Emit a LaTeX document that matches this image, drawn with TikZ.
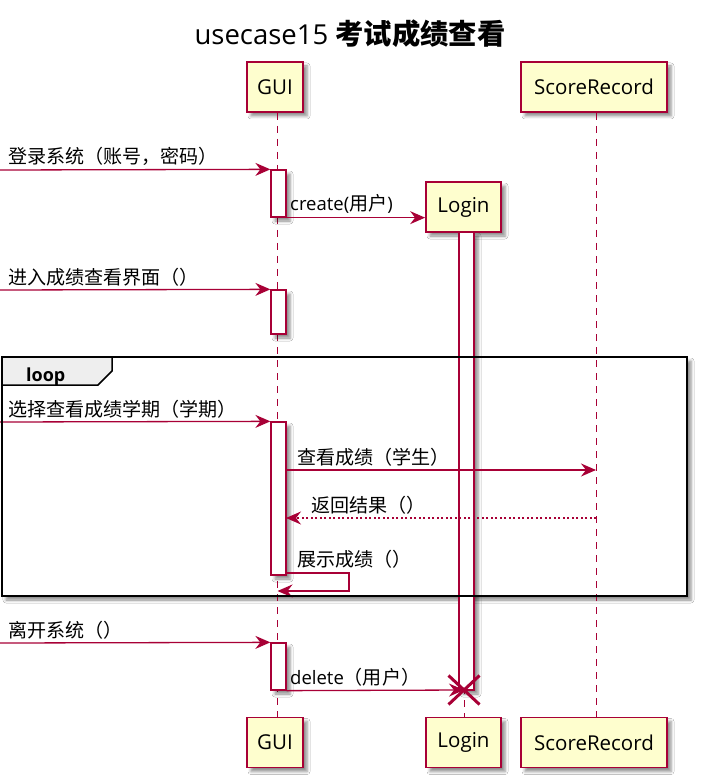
\documentclass[tikz,border=0pt]{standalone}
\usepackage{fontspec}
\setmainfont{Open Sans}
\newfontfamily\cjk{Noto Sans CJK SC}[Scale=1.03]
\usetikzlibrary{arrows.meta,shadows.blur,shapes.misc}
\definecolor{umlred}{HTML}{A80036}
\definecolor{umlfill}{HTML}{FEFECE}
\definecolor{tabgray}{HTML}{EEEEEE}
\begin{document}
\begin{tikzpicture}[x=1pt,y=-1pt,
  shd/.style={blur shadow={shadow xshift=4pt, shadow yshift=-4pt, shadow blur radius=3pt, shadow opacity=45}},
  part/.style={draw=umlred, line width=1.8pt, fill=umlfill, minimum height=50pt, inner sep=0pt, font=\fontsize{20.5}{24}\selectfont, shd},
  actbar/.style={draw=umlred, line width=1.3pt, fill=white, minimum width=15pt, inner sep=0pt, shd},
  life/.style={draw=umlred, line width=1pt, dash pattern=on 7pt off 6pt},
  msg/.style={draw=umlred, line width=1.3pt, -{Stealth[length=15pt,width=13pt,inset=5pt]}},
  ret/.style={msg, dash pattern=on 2pt off 2.5pt},
  lbl/.style={anchor=base west, inner sep=0pt, font=\fontsize{18.5}{22}\selectfont},
]
\fill[white] (0,0) rectangle (705,783);
\useasboundingbox (0,0) rectangle (705,783);

% title
\node[anchor=base, inner sep=0pt, font=\fontsize{27.5}{31}\selectfont] (title) at (350,45) {usecase15 {\cjk\bfseries 考试成绩查看}};

% loop frame background with shadow
\path[fill=white, shd] (2,357) rectangle (687,596);

% participants
\node[part, minimum width=56pt] (guiT) at (275,87) {GUI};
\node[part, minimum width=146pt] (srT) at (594,87) {ScoreRecord};
\node[part, minimum width=75pt] (logT) at (463.5,207) {Login};
\node[part, minimum width=56pt] (guiB) at (275,742.5) {GUI};
\node[part, minimum width=75pt] (logB) at (463.5,742.5) {Login};
\node[part, minimum width=146pt] (srB) at (594,742.5) {ScoreRecord};

% lifelines
\coordinate (guiL1) at (277.5,113);
\coordinate (guiL2) at (277.5,717);
\coordinate (srL1) at (596,113);
\coordinate (srL2) at (596,717);
\coordinate (logL1) at (464,232);
\coordinate (logL2) at (464,717);
\draw[life] (guiL1) -- (guiL2);
\draw[life] (srL1) -- (srL2);
\draw[life] (logL1) -- (logL2);

% activation bars
\node[actbar, minimum height=458pt] (lb) at (466.5,461) {};
\node[actbar, minimum height=47pt] (b1) at (278.5,193.5) {};
\node[actbar, minimum height=44pt] (b2) at (278.5,312) {};
\node[actbar, minimum height=153pt] (b3) at (278.5,498.5) {};
\node[actbar, minimum height=47pt] (b4) at (278.5,666.5) {};

% messages
\coordinate (m1s) at (0,170);
\draw[msg] (m1s) -- (b1.north west);
\node[lbl] (t1) at (8,164) {\cjk 登录系统（账号，密码）};

\draw[msg] (b1.south east) -- (b1.south east -| logT.west);
\node[lbl] (t2) at (290,211) {create({\cjk 用户})};

\coordinate (m3s) at (0,290);
\draw[msg] (m3s) -- (b2.north west);
\node[lbl] (t3) at (8,284) {\cjk 进入成绩查看界面（）};

\coordinate (m4s) at (0,422);
\draw[msg] (m4s) -- (b3.north west);
\node[lbl] (t4) at (8,416) {\cjk 选择查看成绩学期（学期）};

\coordinate (m5s) at (286,470);
\coordinate (m5e) at (596,470);
\draw[msg] (m5s) -- (m5e);
\node[lbl] (t5) at (297,464) {\cjk 查看成绩（学生）};

\coordinate (m6s) at (596,518);
\coordinate (m6e) at (286,518);
\draw[ret] (m6s) -- (m6e);
\node[lbl] (t6) at (311,512) {\cjk 返回结果（）};

\coordinate (m7a) at (286,573);
\coordinate (m7b) at (349,573);
\coordinate (m7c) at (349,591);
\coordinate (m7d) at (277.5,591);
\draw[msg] (m7a) -- (m7b) -- (m7c) -- (m7d);
\node[lbl] (t7) at (297,566) {\cjk 展示成绩（）};

\coordinate (m8s) at (0,643);
\draw[msg] (m8s) -- (b4.north west);
\node[lbl] (t8) at (8,637) {\cjk 离开系统（）};

\node[cross out, draw=umlred, line width=3pt, minimum width=28pt, minimum height=26pt, inner sep=0pt] (xx) at (464,690) {};
\draw[msg] (b4.south east) -- (xx.center);
\node[lbl] (t9) at (290,684) {delete{\cjk （用户）}};

% loop frame outline and tab
\draw[black, line width=2.5pt] (2,357) rectangle (687,596);
\draw[black, line width=1.5pt, fill=tabgray] (2,357) -- (112,357) -- (112,371) -- (98,385) -- (2,385) -- cycle;
\draw[black, line width=2.5pt] (2,357) -- (112,357);
\draw[black, line width=2.5pt] (2,357) -- (2,385);
\node[anchor=base west, inner sep=0pt, font=\fontsize{18}{22}\selectfont\bfseries] (looplbl) at (26,381) {loop};
\end{tikzpicture}
\end{document}
